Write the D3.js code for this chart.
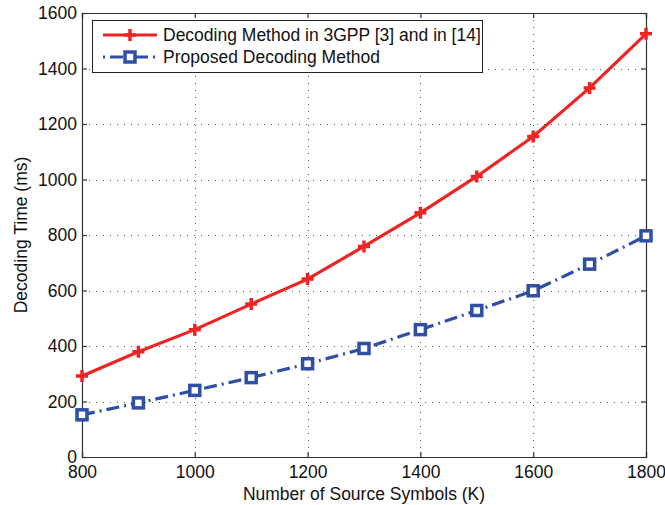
<!DOCTYPE html>
<html>
<head>
<meta charset="utf-8">
<script src="https://cdn.jsdelivr.net/npm/d3@7"></script>
<style>
  body { margin: 0; background: #fff; }
  text { font-family: "Liberation Sans", Arial, sans-serif; fill: #111; }
</style>
</head>
<body>
<script>
var symbols = [800, 900, 1000, 1100, 1200, 1300, 1400, 1500, 1600, 1700, 1800];
var time3gpp = [292, 379, 459, 551, 641, 759, 880, 1011, 1155, 1330, 1525];
var timeProposed = [152, 195, 240, 286, 336, 391, 459, 528, 599, 695, 797];
var xTicks = [800, 1000, 1200, 1400, 1600, 1800];
var yTicks = [0, 200, 400, 600, 800, 1000, 1200, 1400, 1600];
var seriesNames = ["Decoding Method in 3GPP [3] and in [14]", "Proposed Decoding Method"];

var width = 665,
    height = 505;

var margin = {left: 82, right: 19, top: 13, bottom: 48};

var svg = d3.select("body").append("svg")
    .attr("width", width)
    .attr("height", height);

var x = d3.scaleLinear().domain([800, 1800]).range([margin.left, width - margin.right]);
var y = d3.scaleLinear().domain([0, 1600]).range([height - margin.bottom, margin.top]);

var x0 = x.range()[0], x1 = x.range()[1], y0 = y.range()[0], y1 = y.range()[1];

// grid
var grid = svg.append("g").attr("stroke", "#555").attr("stroke-width", 1)
  .attr("stroke-dasharray", "1,6");
grid.selectAll(".gx").data(xTicks.slice(1, -1)).enter().append("line")
  .attr("x1", d => Math.round(x(d)) + 0.5).attr("x2", d => Math.round(x(d)) + 0.5)
  .attr("y1", y1).attr("y2", y0);
grid.selectAll(".gy").data(yTicks.slice(1, -1)).enter().append("line")
  .attr("y1", d => Math.round(y(d)) + 0.5).attr("y2", d => Math.round(y(d)) + 0.5)
  .attr("x1", x0).attr("x2", x1);

// axes (box with inward ticks)
var fs = "17.5px";
svg.append("g").attr("transform", "translate(0," + y0 + ")")
  .call(d3.axisBottom(x).tickValues(xTicks).tickSize(-5).tickPadding(9).tickFormat(d3.format("d")))
  .call(g => g.selectAll("text").style("font-size", fs));
svg.append("g").attr("transform", "translate(0," + y1 + ")")
  .call(d3.axisTop(x).tickValues(xTicks).tickSize(-5).tickFormat(""));
svg.append("g").attr("transform", "translate(" + x0 + ",0)")
  .call(d3.axisLeft(y).tickValues(yTicks).tickSize(-5).tickPadding(5).tickFormat(d3.format("d")))
  .call(g => g.selectAll("text").style("font-size", fs));
svg.append("g").attr("transform", "translate(" + x1 + ",0)")
  .call(d3.axisRight(y).tickValues(yTicks).tickSize(-5).tickFormat(""));
svg.selectAll(".domain, .tick line").attr("stroke", "#333").attr("stroke-width", 1.2);

// labels
svg.append("text").attr("x", (x0 + x1) / 2).attr("y", 500)
  .attr("text-anchor", "middle").style("font-size", fs)
  .text("Number of Source Symbols (K)");
svg.append("text").attr("transform", "translate(27," + ((y0 + y1) / 2) + ") rotate(-90)")
  .attr("text-anchor", "middle").style("font-size", fs)
  .text("Decoding Time (ms)");

var red = "#ee2424", blue = "#2f4ea6";

var line = d3.line().x((d, i) => x(symbols[i])).y(d => y(d));

// proposed
svg.append("path").datum(timeProposed).attr("d", line)
  .attr("fill", "none").attr("stroke", blue).attr("stroke-width", 3.2)
  .attr("stroke-dasharray", "13,5,2,5");
svg.selectAll(".sq").data(timeProposed).enter().append("rect")
  .attr("x", (d, i) => x(symbols[i]) - 5).attr("y", d => y(d) - 5)
  .attr("width", 10).attr("height", 10)
  .attr("fill", "#fff").attr("stroke", blue).attr("stroke-width", 3.5);

// 3gpp
svg.append("path").datum(time3gpp).attr("d", line)
  .attr("fill", "none").attr("stroke", red).attr("stroke-width", 3.2);
svg.selectAll(".pl").data(time3gpp).enter().append("path")
  .attr("d", (d, i) => {
    var cx = x(symbols[i]), cy = y(d);
    return "M" + (cx - 6) + "," + cy + "H" + (cx + 6) + "M" + cx + "," + (cy - 6) + "V" + (cy + 6);
  })
  .attr("stroke", red).attr("stroke-width", 3.5);

// legend
var lg = svg.append("g");
lg.append("rect").attr("x", 92.5).attr("y", 20.5).attr("width", 390).attr("height", 52)
  .attr("fill", "#fff").attr("stroke", "#222").attr("stroke-width", 1);
var ly = [35, 57];
lg.append("line").attr("x1", 103).attr("x2", 157).attr("y1", ly[0]).attr("y2", ly[0])
  .attr("stroke", red).attr("stroke-width", 3.2);
lg.append("path").attr("d", "M124," + ly[0] + "H136M130," + (ly[0] - 6) + "V" + (ly[0] + 6))
  .attr("stroke", red).attr("stroke-width", 3.5);
lg.append("line").attr("x1", 103).attr("x2", 157).attr("y1", ly[1]).attr("y2", ly[1])
  .attr("stroke", blue).attr("stroke-width", 3.2).attr("stroke-dasharray", "2,5,13,5");
lg.append("rect").attr("x", 125).attr("y", ly[1] - 5).attr("width", 10).attr("height", 10)
  .attr("fill", "#fff").attr("stroke", blue).attr("stroke-width", 3.5);
lg.selectAll(".lt").data(seriesNames).enter().append("text")
  .attr("x", 163).attr("y", (d, i) => ly[i]).attr("dy", "0.35em")
  .style("font-size", fs).text(d => d);
</script>
</body>
</html>
